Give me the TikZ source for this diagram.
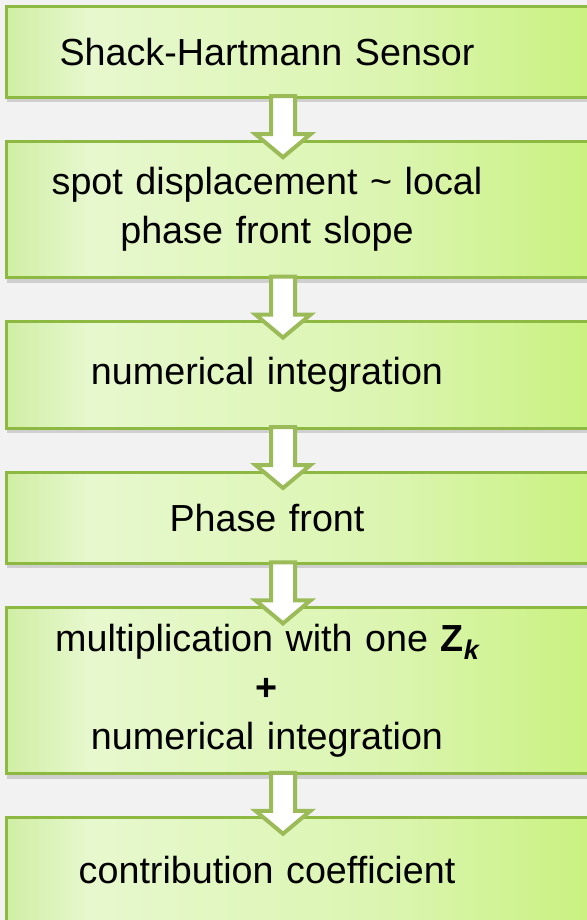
\documentclass[tikz,border=0pt]{standalone}
\usepackage{fontspec}
\setmainfont{Liberation Sans}
\usetikzlibrary{positioning,backgrounds,shadows}

\definecolor{pagegray}{RGB}{242,242,242}
\definecolor{stageedge}{RGB}{141,184,66}
\definecolor{arrowgreen}{RGB}{155,187,89}
\definecolor{stageL}{RGB}{208,238,165}
\definecolor{stageW}{RGB}{231,248,206}
\definecolor{stageM}{RGB}{219,245,176}
\definecolor{stageR}{RGB}{200,241,124}
\pgfdeclarehorizontalshading{stageshade}{100bp}{color(0bp)=(stageL); color(25bp)=(stageL); color(32bp)=(stageW); color(57bp)=(stageM); color(75bp)=(stageR); color(100bp)=(stageR)}

\begin{document}
\begin{tikzpicture}[x=1bp, y=-1bp, node distance=44bp]
  \tikzset{stage/.style={text width=520bp, inner xsep=0bp, align=center, font=\fontsize{37.7bp}{49bp}\selectfont}}
  \tikzset{stagebox/.style={shading=stageshade, draw=stageedge, line width=3bp, drop shadow={shadow xshift=0bp, shadow yshift=-5bp, opacity=0.3}}}
  \tikzset{flowarrow/.style={draw=arrowgreen, line width=4bp, fill=white}}
  \tikzset{downarrow/.pic={\draw[flowarrow] (-12,0) -- (-12,38) -- (-27.5,38) -- (0,61) -- (27.5,38) -- (12,38) -- (12,0) -- cycle;}}

  \useasboundingbox (0,0) rectangle (587,920);

  \node[stage, minimum height=90bp] (sensor) at (267,52) {Shack-Hartmann Sensor};
  \node[stage, minimum height=136bp, below=of sensor] (slope) {spot displacement \textasciitilde{} local\\phase front slope};
  \node[stage, minimum height=106bp, below=of slope] (integ) {numerical integration};
  \node[stage, minimum height=91bp, below=of integ] (front) {Phase front};
  \node[stage, minimum height=166bp, below=of front] (product) {multiplication with one \textbf{Z}\raisebox{-8bp}{\fontsize{27bp}{27bp}\selectfont\bfseries\itshape k}\\\textbf{+}\\numerical integration};
  \node[stage, minimum height=104bp, below=of product] (coeff) {contribution coefficient};

  % boxes behind the texts
  \begin{scope}[on background layer]
    \fill[pagegray] (0,0) rectangle (587,920);
    \foreach \n/\d in {sensor/0,slope/0,integ/0,front/0,product/0,coeff/10}
      \path[stagebox] (\n.north west) rectangle ([shift={(80,\d)}]\n.south east);
  \end{scope}

  \foreach \a in {sensor,slope,integ,front,product}
    \pic at ([shift={(16,-1)}]\a.south) {downarrow};
\end{tikzpicture}
\end{document}
